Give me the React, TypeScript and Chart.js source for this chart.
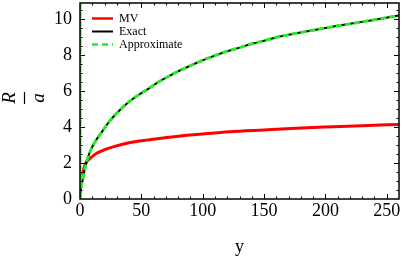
import React, { useEffect, useRef } from "react";
import { Chart, registerables } from "chart.js";

Chart.register(...registerables);

const exactX = [0, 1, 2, 4, 6, 8, 12, 17, 25, 33, 40, 48, 55, 65, 80, 92, 105, 117, 130, 141, 150, 162, 175, 190, 210, 230, 245, 260];
const exactY = [0, 0.7, 1.0, 1.7, 2.2, 2.6, 3.15, 3.65, 4.4, 4.98, 5.41, 5.8, 6.1, 6.55, 7.1, 7.48, 7.85, 8.15, 8.42, 8.65, 8.8, 9.02, 9.2, 9.39, 9.63, 9.85, 10.03, 10.2];

const approxX = [0, 0, 1, 2, 4, 6, 8, 12, 17, 25, 33, 40, 48, 55, 65, 80, 92, 105, 117, 130, 141, 150, 162, 175, 190, 210, 230, 245, 260];
const approxY = [10.9, 0, 0.7, 1.0, 1.7, 2.2, 2.6, 3.15, 3.65, 4.4, 4.98, 5.41, 5.8, 6.1, 6.55, 7.1, 7.48, 7.85, 8.15, 8.42, 8.65, 8.8, 9.02, 9.2, 9.39, 9.63, 9.85, 10.03, 10.2];

const mvX = [2, 3, 4, 5.4, 8, 13.6, 20, 27, 40, 50, 65, 73, 90, 100, 122, 150, 176, 200, 230, 260];
const mvY = [1.3, 1.65, 1.9, 2.07, 2.25, 2.54, 2.74, 2.9, 3.13, 3.24, 3.37, 3.44, 3.56, 3.62, 3.74, 3.84, 3.93, 4.0, 4.08, 4.15];

const seriesNames = ["MV", "Exact", "Approximate"];
const xTickStep = 50;
const yTickStep = 2;

const RED = "#ff0000";
const BLACK = "#000000";
const GREEN = "#22ee22";
const SERIF = "'Liberation Serif', 'DejaVu Serif', serif";

function pts(xs: number[], ys: number[]) {
  return xs.map((x, i) => ({ x, y: ys[i] }));
}

const framePlugin = {
  id: "framePlugin",
  afterDraw(chart: any) {
    const { ctx, chartArea } = chart;
    const { left, right, top, bottom } = chartArea;
    const xs = chart.scales.x;
    const ys = chart.scales.y;
    ctx.save();
    ctx.strokeStyle = "#000";
    ctx.lineWidth = 1.5;
    ctx.strokeRect(left, top, right - left, bottom - top);
    ctx.lineWidth = 1;
    ctx.beginPath();
    for (let v = 10; v < 260; v += 10) {
      const px = Math.round(xs.getPixelForValue(v)) + 0.5;
      const len = v % 50 === 0 ? 5 : 2.5;
      ctx.moveTo(px, bottom);
      ctx.lineTo(px, bottom - len);
      ctx.moveTo(px, top);
      ctx.lineTo(px, top + len);
    }
    for (let v = 0.5; v < 10.9; v += 0.5) {
      const py = Math.round(ys.getPixelForValue(v)) + 0.5;
      const len = Math.abs(v % 2) < 1e-6 ? 5 : 2.5;
      ctx.moveTo(left, py);
      ctx.lineTo(left + len, py);
      ctx.moveTo(right, py);
      ctx.lineTo(right - len, py);
    }
    ctx.stroke();

    // legend
    const colors = [RED, BLACK, GREEN];
    const widths = [2.5, 2, 2.5];
    const rowsY = [18.5, 31.5, 44.5];
    ctx.font = `12px ${SERIF}`;
    ctx.textBaseline = "middle";
    ctx.textAlign = "left";
    for (let i = 0; i < 3; i++) {
      ctx.beginPath();
      ctx.strokeStyle = colors[i];
      ctx.lineWidth = widths[i];
      ctx.setLineDash(i === 2 ? [6, 4] : []);
      ctx.moveTo(92, rowsY[i]);
      ctx.lineTo(113, rowsY[i]);
      ctx.stroke();
      ctx.setLineDash([]);
      ctx.fillStyle = "#000";
      ctx.fillText(seriesNames[i], 119, rowsY[i]);
    }

    // x title
    ctx.font = `18px ${SERIF}`;
    ctx.textAlign = "center";
    ctx.textBaseline = "alphabetic";
    ctx.fillText("y", (left + right) / 2, 252);

    // y title: R / a rotated
    ctx.translate(24, 98);
    ctx.rotate(-Math.PI / 2);
    ctx.font = `italic 19px ${SERIF}`;
    ctx.textAlign = "center";
    ctx.fillText("R", 0, -9);
    ctx.fillText("a", 0, 20);
    ctx.beginPath();
    ctx.lineWidth = 1.2;
    ctx.strokeStyle = "#000";
    ctx.moveTo(-6, 0.5);
    ctx.lineTo(6, 0.5);
    ctx.stroke();
    ctx.restore();
  },
};

export default function App() {
  const ref = useRef<HTMLCanvasElement | null>(null);
  useEffect(() => {
    document.body.style.margin = "0";
    const canvas = ref.current!;
    const chart = new Chart(canvas, {
      type: "line",
      data: {
        datasets: [
          {
            label: seriesNames[2],
            data: pts(approxX, approxY),
            borderColor: GREEN,
            borderWidth: 3,
            borderDash: [6, 3],
            pointRadius: 0,
            cubicInterpolationMode: "monotone",
            order: 0,
          },
          {
            label: seriesNames[1],
            data: pts(exactX, exactY),
            borderColor: BLACK,
            borderWidth: 2,
            pointRadius: 0,
            cubicInterpolationMode: "monotone",
            order: 1,
          },
          {
            label: seriesNames[0],
            data: pts(mvX, mvY),
            borderColor: RED,
            borderWidth: 3,
            pointRadius: 0,
            cubicInterpolationMode: "monotone",
            order: 2,
          },
        ],
      },
      options: {
        animation: false,
        responsive: false,
        maintainAspectRatio: false,
        layout: { padding: { top: 3, right: 3, left: 0, bottom: 0 } },
        plugins: { legend: { display: false }, tooltip: { enabled: false } },
        scales: {
          x: {
            type: "linear",
            min: 0,
            max: 260,
            grid: { display: false, drawTicks: false },
            border: { display: false },
            ticks: {
              stepSize: xTickStep,
              includeBounds: false,
              color: "#000",
              font: { family: SERIF, size: 18 },
              padding: 1,
              maxRotation: 0,
              autoSkip: false,
            },
            afterFit: (s: any) => {
              s.height = 60;
              s.paddingLeft = 0;
              s.paddingRight = 0;
            },
          },
          y: {
            type: "linear",
            min: 0,
            max: 10.9,
            grid: { display: false, drawTicks: false },
            border: { display: false },
            ticks: {
              stepSize: yTickStep,
              includeBounds: false,
              color: "#000",
              font: { family: SERIF, size: 18 },
              padding: 8,
            },
            afterFit: (s: any) => {
              s.width = 80;
              s.paddingTop = 0;
              s.paddingBottom = 0;
            },
          },
        },
      },
      plugins: [framePlugin],
    });
    return () => chart.destroy();
  }, []);
  return (
    <div style={{ width: 402, height: 259 }}>
      <canvas ref={ref} width={402} height={259} style={{ width: 402, height: 259 }} />
    </div>
  );
}
